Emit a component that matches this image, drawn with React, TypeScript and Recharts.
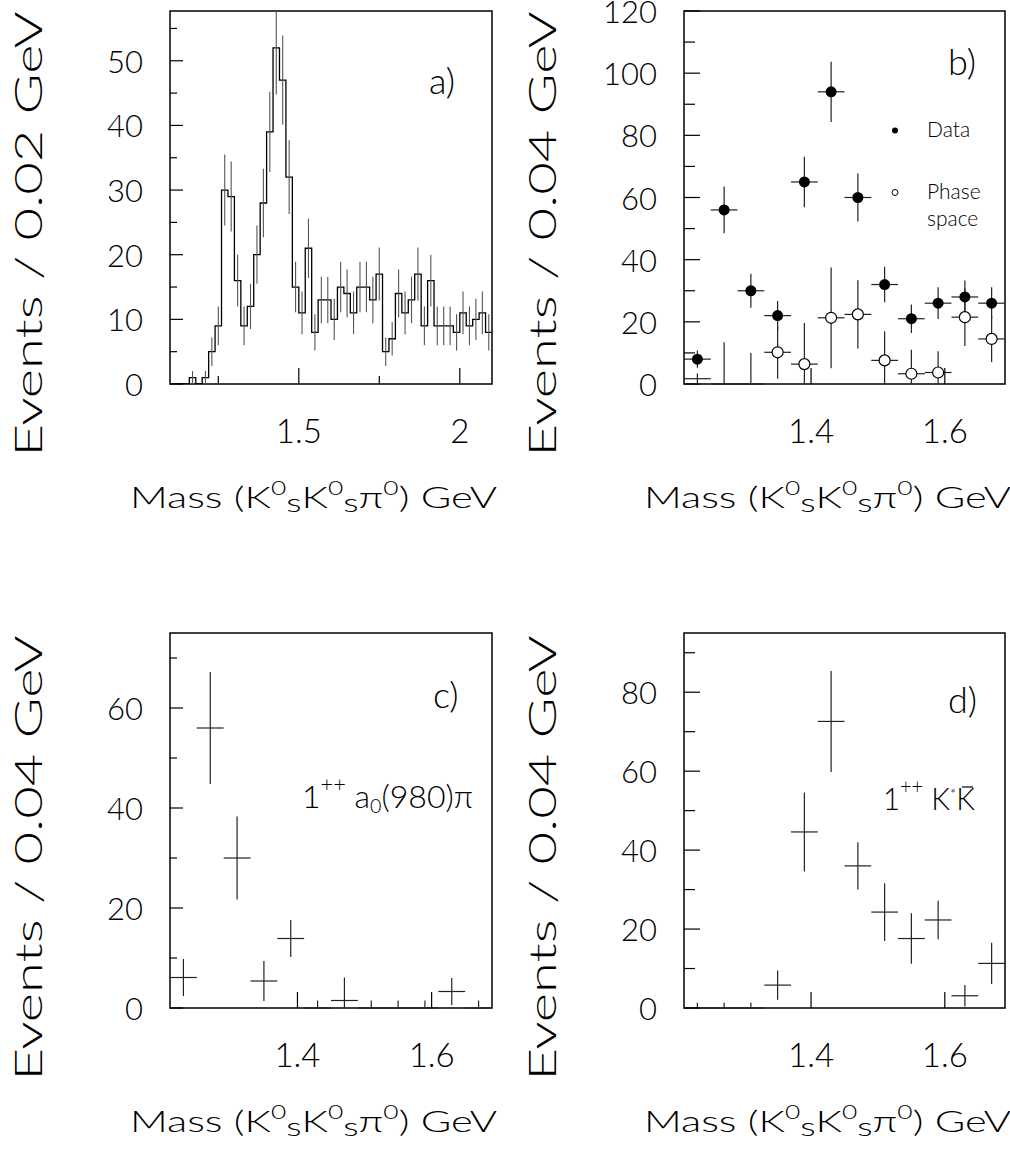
import React from 'react';
import { ComposedChart, Line, Scatter, XAxis, YAxis, ErrorBar, ReferenceArea } from 'recharts';

const PAGE_W = 1010;
const PAGE_H = 1171;
const FONT = "Lato, 'DejaVu Sans', sans-serif";
const INK = '#000';

// a) histogram, 0.02 GeV bins (low edges)
const histEdges = [
  1.10, 1.12, 1.14, 1.16, 1.18, 1.20, 1.22, 1.24, 1.26, 1.28,
  1.30, 1.32, 1.34, 1.36, 1.38, 1.40, 1.42, 1.44, 1.46, 1.48,
  1.50, 1.52, 1.54, 1.56, 1.58, 1.60, 1.62, 1.64, 1.66, 1.68,
  1.70, 1.72, 1.74, 1.76, 1.78, 1.80, 1.82, 1.84, 1.86, 1.88,
  1.90, 1.92, 1.94, 1.96, 1.98, 2.00, 2.02, 2.04, 2.06, 2.08,
];
const histCounts = [
  0, 0, 0, 1, 0, 1, 5, 9, 30, 29,
  16, 9, 12, 20, 28, 39, 52, 47, 32, 15,
  11, 21, 8, 13, 13, 10, 15, 14, 11, 15,
  15, 13, 17, 5, 7, 14, 11, 13, 17, 9,
  16, 9, 9, 9, 8, 11, 9, 10, 11, 8,
];
// error bars as drawn (the tallest one stops at the frame)
const histErrors: (number | number[])[] = [
  0, 0, 0, 1, 0, 1, 2.2, 3, 5.5, 5.4,
  4, 3, 3.5, 4.5, 5.3, 6.2, [7.2, 5.7], 6.9, 5.7, 3.9,
  3.3, 4.6, 2.8, 3.6, 3.6, 3.2, 3.9, 3.7, 3.3, 3.9,
  3.9, 3.6, 4.1, 2.2, 2.6, 3.7, 3.3, 3.6, 4.1, 3,
  4, 3, 3, 3, 2.8, 3.3, 3, 3.2, 3.3, 2.8,
];
const HIST_BIN = 0.02;
const HIST_END = 2.1;

// b) data and phase space, 0.04 GeV bins (centres)
const HALF_BIN = 0.02;
const bCenters = [1.23, 1.27, 1.31, 1.35, 1.39, 1.43, 1.47, 1.51, 1.55, 1.59, 1.63, 1.67];
const bData = [8, 56, 30, 22, 65, 94, 60, 32, 21, 26, 28, 26];
const bDataErr = [2.8, 7.5, 5.5, 4.7, 8.1, 9.7, 7.7, 5.7, 4.6, 5.1, 5.3, 5.1];
const bPhase = [1.7, 0, 0, 10.2, 6.4, 21.3, 22.4, 7.6, 3.3, 3.7, 21.5, 14.5];
const bPhaseErr: (number | number[])[] = [1.7, [0, 13.4], [0, 10], 8.5, [6.4, 13.2], 16.2, 11, [7.6, 9.4], [3.3, 7.7], [3.7, 6.8], 9.3, 7.4];

// c) 1++ a0(980)pi
const cCenters = [1.23, 1.27, 1.31, 1.35, 1.39, 1.43, 1.47, 1.51, 1.55, 1.59, 1.63, 1.67];
const cVals = [6.1, 56, 30, 5.4, 13.9, 0, 1.5, 0, 0, 0, 3.3, 0];
const cErr: (number | number[])[] = [3.7, 11.2, 8.3, 4, 3.7, [0, 1.5], [1.5, 4.6], [0, 1.5], [0, 1.5], [0, 1.5], 2.7, [0, 1.5]];

// d) 1++ K*K
const dCenters = [1.23, 1.27, 1.31, 1.35, 1.39, 1.43, 1.47, 1.51, 1.55, 1.59, 1.63, 1.67];
const dVals = [0, 0, 0, 5.8, 44.6, 72.6, 36, 24.3, 17.6, 22.3, 3.1, 11.3];
const dErr: (number | number[])[] = [[0, 1.3], [0, 1.3], [0, 1.3], 3.7, 10, 12.8, 6, 7.3, 6.4, 4.9, 2.7, 5.2];

// axis ticks
const xTicksA = [1.25, 1.5, 1.75, 2];
const xMajorA = [1.5, 2];
const xTicksB = [1.4, 1.6];
const xMajorB = [1.4, 1.6];
const yTicksA = [0, 5, 10, 15, 20, 25, 30, 35, 40, 45, 50, 55];
const yMajorA = [0, 10, 20, 30, 40, 50];
const yTicksB = [0, 10, 20, 30, 40, 50, 60, 70, 80, 90, 100, 110, 120];
const yMajorB = [0, 20, 40, 60, 80, 100, 120];
const yTicksC = [0, 10, 20, 30, 40, 50, 60, 70];
const yMajorC = [0, 20, 40, 60];
const yTicksD = [0, 10, 20, 30, 40, 50, 60, 70, 80, 90];
const yMajorD = [0, 20, 40, 60, 80];

type Frame = { x0: number; y0: number; x1: number; y1: number };
const frameA: Frame = { x0: 170, y0: 11, x1: 492, y1: 384 };
const frameB: Frame = { x0: 684, y0: 11, x1: 1005, y1: 384 };
const frameC: Frame = { x0: 170, y0: 633, x1: 492, y1: 1008 };
const frameD: Frame = { x0: 684, y0: 633, x1: 1005, y1: 1008 };

const isIn = (list: number[], v: number) => list.some((m) => Math.abs(m - v) < 1e-9);

const makeXTick = (major: number[]) => (props: any) => {
  const { x, y, payload } = props;
  const big = isIn(major, payload.value);
  return (
    <g>
      <line x1={x} x2={x} y1={y} y2={y - (big ? 16 : 8)} stroke={INK} strokeWidth={1.2} />
      {big && (
        <text x={x} y={y + 46} textAnchor="middle" dominantBaseline="central" fontFamily={FONT} fontWeight={300} fontSize={33} fill={INK}>
          {payload.value}
        </text>
      )}
    </g>
  );
};

const makeYTick = (major: number[], bigLen: number, smallLen: number) => (props: any) => {
  const { x, y, payload } = props;
  const big = isIn(major, payload.value);
  return (
    <g>
      <line x1={x} x2={x + (big ? bigLen : smallLen)} y1={y} y2={y} stroke={INK} strokeWidth={1.2} />
      {big && (
        <text x={x - 27} y={y} textAnchor="end" dominantBaseline="central" fontFamily={FONT} fontWeight={300} fontSize={31} fill={INK}>
          {payload.value}
        </text>
      )}
    </g>
  );
};

const Empty = () => <g />;
const FilledDot = (p: any) => <circle cx={p.cx} cy={p.cy} r={5.5} fill={INK} />;
const OpenDot = (p: any) =>
  p.payload && p.payload.y > 2.5 ? <circle cx={p.cx} cy={p.cy} r={5.5} fill="#fff" stroke={INK} strokeWidth={1.2} /> : <g />;

interface PanelProps {
  frame: Frame;
  xDomain: [number, number];
  yDomain: [number, number];
  xTicks: number[];
  xMajor: number[];
  yTicks: number[];
  yMajor: number[];
  yBig: number;
  ySmall: number;
  children: React.ReactNode;
}

// axes get 1px so they are drawn; ticks point into the frame
const Panel: React.FC<PanelProps> = ({ frame, xDomain, yDomain, xTicks, xMajor, yTicks, yMajor, yBig, ySmall, children }) => (
  <div style={{ position: 'absolute', left: 0, top: 0 }}>
    <ComposedChart
      width={PAGE_W}
      height={PAGE_H}
      margin={{ top: frame.y0, left: frame.x0 - 1, right: PAGE_W - frame.x1, bottom: PAGE_H - frame.y1 - 1 }}
    >
      <XAxis
        type="number"
        dataKey="x"
        domain={xDomain}
        allowDataOverflow
        ticks={xTicks}
        interval={0}
        height={1}
        axisLine={false}
        tickLine={false}
        tickSize={0}
        tickMargin={0}
        tick={makeXTick(xMajor)}
      />
      <YAxis
        type="number"
        dataKey="y"
        domain={yDomain}
        allowDataOverflow
        ticks={yTicks}
        interval={0}
        width={1}
        axisLine={false}
        tickLine={false}
        tickSize={0}
        tickMargin={0}
        tick={makeYTick(yMajor, yBig, ySmall)}
      />
      {children}
      <ReferenceArea x1={xDomain[0]} x2={xDomain[1]} y1={yDomain[0]} y2={yDomain[1]} fill="none" stroke={INK} strokeWidth={1.5} />
    </ComposedChart>
  </div>
);

const histStep = [
  ...histEdges.map((x, i) => ({ x, y: histCounts[i] })),
  { x: HIST_END, y: histCounts[histCounts.length - 1] },
];
const histPoints = histEdges.map((x, i) => ({ x: x + HIST_BIN / 2, y: histCounts[i], ey: histErrors[i] }));
const bDataPts = bCenters.map((x, i) => ({ x, y: bData[i], ex: HALF_BIN, ey: bDataErr[i] }));
const bPhasePts = bCenters.map((x, i) => ({ x, y: bPhase[i], ex: HALF_BIN, ey: bPhaseErr[i] }));
const cPts = cCenters.map((x, i) => ({ x, y: cVals[i], ex: HALF_BIN, ey: cErr[i] }));
const dPts = dCenters.map((x, i) => ({ x, y: dVals[i], ex: HALF_BIN, ey: dErr[i] }));

const crossBars = (color: string) => [
  <ErrorBar key="ex" dataKey="ex" direction="x" width={0} stroke={color} strokeWidth={1.2} isAnimationActive={false} />,
  <ErrorBar key="ey" dataKey="ey" direction="y" width={0} stroke={color} strokeWidth={1.2} isAnimationActive={false} />,
];

const txt = { fontFamily: FONT, fontWeight: 300, fill: INK } as const;

const YTitle = ({ x, cy, text }: { x: number; cy: number; text: string }) => (
  <text x={x} y={cy} transform={`rotate(-90 ${x} ${cy})`} textAnchor="middle" fontSize={37} textLength={445} lengthAdjust="spacingAndGlyphs" {...txt}>
    {text}
  </text>
);

const XTitle = ({ x, y }: { x: number; y: number }) => (
  <text x={x} y={y} fontSize={30} textLength={367} lengthAdjust="spacingAndGlyphs" {...txt}>
    Mass (K
    <tspan dy={-13} fontSize={19}>0</tspan>
    <tspan dy={17} fontSize={26}>s</tspan>
    <tspan dy={-4}>K</tspan>
    <tspan dy={-13} fontSize={19}>0</tspan>
    <tspan dy={17} fontSize={26}>s</tspan>
    <tspan dy={-4}>π</tspan>
    <tspan dy={-13} fontSize={19}>0</tspan>
    <tspan dy={13}>) GeV</tspan>
  </text>
);

const Labels = () => (
  <svg width={PAGE_W} height={PAGE_H} style={{ position: 'absolute', left: 0, top: 0 }}>
    <YTitle x={42} cy={234} text="Events / 0.02 GeV" />
    <YTitle x={556} cy={234} text="Events / 0.04 GeV" />
    <YTitle x={42} cy={858} text="Events / 0.04 GeV" />
    <YTitle x={556} cy={858} text="Events / 0.04 GeV" />
    <XTitle x={130} y={508} />
    <XTitle x={644} y={508} />
    <XTitle x={130} y={1132} />
    <XTitle x={644} y={1132} />

    <text x={429} y={94} fontSize={36} {...txt}>a)</text>
    <text x={948} y={75} fontSize={36} {...txt}>b)</text>
    <text x={433} y={708} fontSize={36} {...txt}>c)</text>
    <text x={948} y={713} fontSize={36} {...txt}>d)</text>

    <circle cx={895} cy={130.5} r={3} fill={INK} />
    <text x={927} y={137} fontSize={21} {...txt}>Data</text>
    <circle cx={895} cy={192.5} r={3} fill="#fff" stroke={INK} strokeWidth={1} />
    <text x={927} y={199} fontSize={21} {...txt}>Phase</text>
    <text x={927} y={226} fontSize={21} {...txt}>space</text>

    <text x={302} y={808} fontSize={31} textLength={171} lengthAdjust="spacingAndGlyphs" {...txt}>
      1<tspan dy={-16} fontSize={21}>++</tspan>
      <tspan dy={16}> a</tspan>
      <tspan dy={5} fontSize={19}>0</tspan>
      <tspan dy={-5}>(980)π</tspan>
    </text>
    <text x={883} y={810} fontSize={31} textLength={92} lengthAdjust="spacingAndGlyphs" {...txt}>
      1<tspan dy={-16} fontSize={21}>++</tspan>
      <tspan dy={16}> K</tspan>
      <tspan dy={-10} fontSize={16}>*</tspan>
      <tspan dy={10}>K</tspan>
    </text>
    {/* bar over the second K */}
    <line x1={962} x2={973} y1={787} y2={787} stroke={INK} strokeWidth={1.2} />
  </svg>
);

export default function App() {
  return (
    <div style={{ position: 'absolute', left: 0, top: 0, width: PAGE_W, height: PAGE_H, background: '#fff' }}>
      <Panel frame={frameA} xDomain={[1.1, 2.1]} yDomain={[0, 57.7]} xTicks={xTicksA} xMajor={xMajorA} yTicks={yTicksA} yMajor={yMajorA} yBig={13} ySmall={7}>
        <Line data={histStep} dataKey="y" type="stepAfter" stroke={INK} strokeWidth={1.3} dot={false} isAnimationActive={false} />
        <Scatter data={histPoints} shape={Empty} isAnimationActive={false}>
          <ErrorBar dataKey="ey" direction="y" width={0} stroke="#555" strokeWidth={1.1} isAnimationActive={false} />
        </Scatter>
      </Panel>
      <Panel frame={frameB} xDomain={[1.21, 1.69]} yDomain={[0, 120]} xTicks={xTicksB} xMajor={xMajorB} yTicks={yTicksB} yMajor={yMajorB} yBig={16} ySmall={11}>
        <Scatter data={bPhasePts} shape={OpenDot} isAnimationActive={false}>
          {crossBars('#222')}
        </Scatter>
        <Scatter data={bDataPts} shape={FilledDot} isAnimationActive={false}>
          {crossBars('#222')}
        </Scatter>
      </Panel>
      <Panel frame={frameC} xDomain={[1.21, 1.69]} yDomain={[0, 75]} xTicks={xTicksB} xMajor={xMajorB} yTicks={yTicksC} yMajor={yMajorC} yBig={13} ySmall={7}>
        <Scatter data={cPts} shape={Empty} isAnimationActive={false}>
          {crossBars('#222')}
        </Scatter>
      </Panel>
      <Panel frame={frameD} xDomain={[1.21, 1.69]} yDomain={[0, 95]} xTicks={xTicksB} xMajor={xMajorB} yTicks={yTicksD} yMajor={yMajorD} yBig={16} ySmall={11}>
        <Scatter data={dPts} shape={Empty} isAnimationActive={false}>
          {crossBars('#222')}
        </Scatter>
      </Panel>
      <Labels />
    </div>
  );
}
